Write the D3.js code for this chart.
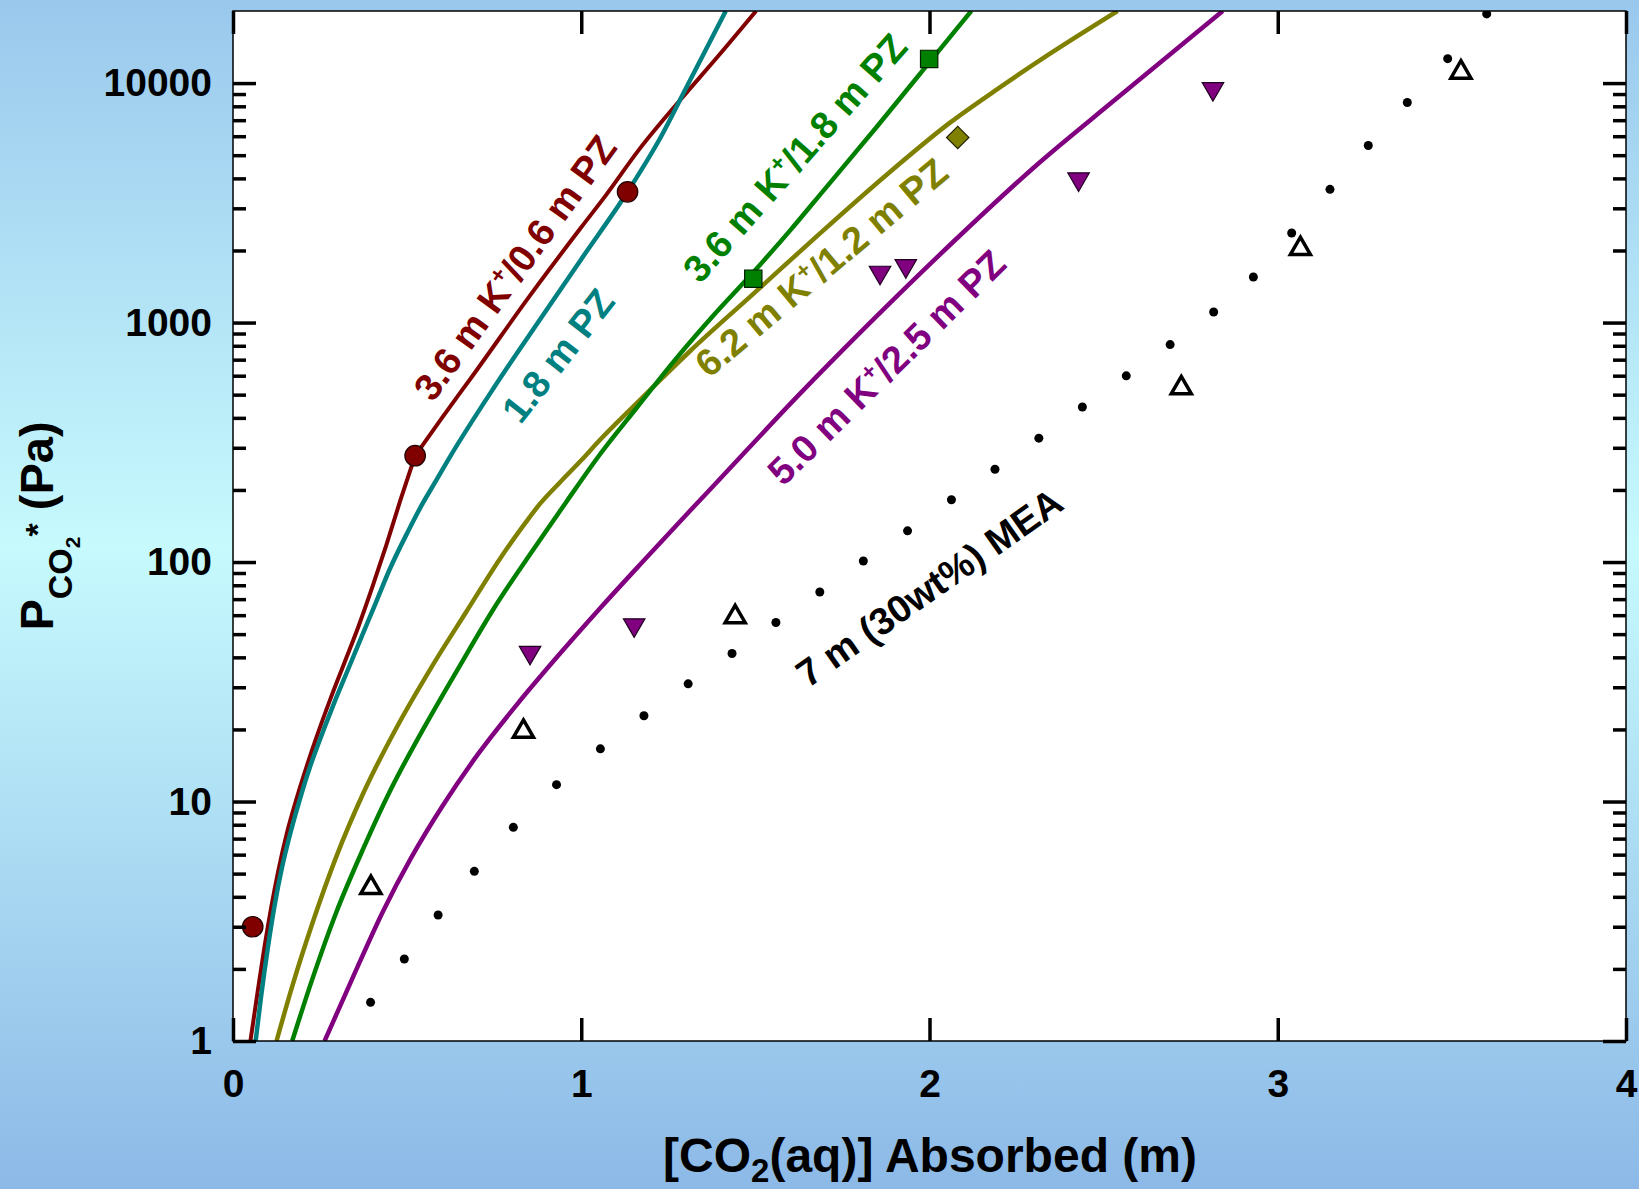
<!DOCTYPE html>
<html>
<head>
<meta charset="utf-8">
<script src="https://cdn.jsdelivr.net/npm/d3@7"></script>
<style>
  body { margin: 0; }
  text { font-family: 'Liberation Sans', Arial, sans-serif; font-weight: bold; }
</style>
</head>
<body>
<div id="vis"></div>
<script>
// axis ticks
const xTicks = [0, 1, 2, 3, 4];
const yTicks = [1, 10, 100, 1000, 10000];

// model curves  [CO2 absorbed (m), PCO2* (Pa)]
const k36pz06Curve = [[0.05,1],[0.07,1.58],[0.09,2.45],[0.11,3.63],[0.13,5.13],[0.155,7.41],[0.18,10],[0.21,13.8],[0.24,18.6],[0.28,26.9],[0.32,38],[0.36,53.7],[0.4,78.5],[0.44,117.5],[0.48,180],[0.523,278],[0.6,400],[0.696,622],[0.85,1280],[1.0,2500],[1.07,3390],[1.167,5300],[1.281,8400],[1.394,13000],[1.502,20000]];
const k36pz06Kink = 15; // the curve has a corner at the 0.523 m point
const pz18Curve = [[0.065,1],[0.08,1.51],[0.1,2.45],[0.12,3.72],[0.14,5.25],[0.165,7.41],[0.19,10],[0.22,13.8],[0.25,18.2],[0.29,25.7],[0.33,35.5],[0.37,49],[0.41,67.6],[0.45,93.3],[0.5,132],[0.543,174],[0.58,215],[0.623,275],[0.75,537],[0.885,1047],[1.0,1840],[1.133,3515],[1.224,5800],[1.304,9720],[1.415,20000]];
const k36pz18Curve = [[0.17,1],[0.227,1.8],[0.295,3.4],[0.375,6.4],[0.454,11.3],[0.545,19.9],[0.647,36],[0.749,64],[0.863,113],[0.959,180],[1.054,282],[1.16,442],[1.27,700],[1.38,1072],[1.494,1622],[1.6,2427],[1.695,3548],[1.85,6607],[1.996,12023],[2.12,20000]];
const k62pz12Curve = [[0.125,1],[0.17,1.69],[0.227,3.07],[0.295,5.8],[0.375,10.9],[0.466,19.9],[0.568,36],[0.67,62],[0.772,106],[0.84,146],[0.88,174],[0.94,216],[1.0,266],[1.054,324],[1.15,447],[1.23,582],[1.312,759],[1.494,1318],[1.676,2291],[1.867,4027],[2.059,6839],[2.2,9550],[2.346,13270],[2.54,20000]];
const k50pz25Curve = [[0.263,1],[0.341,1.8],[0.432,3.51],[0.511,5.8],[0.602,9.6],[0.704,15.8],[0.818,25.7],[0.931,40.2],[1.056,64.6],[1.181,102],[1.311,163],[1.394,219],[1.622,494],[1.849,1066],[2.076,2228],[2.303,4487],[2.53,8450],[2.842,20000]];
const meaCurve = [[0.395,1.45],[0.492,2.2],[0.589,3.36],[0.693,5.11],[0.805,7.8],[0.929,11.76],[1.055,16.6],[1.18,22.8],[1.307,31],[1.433,41.5],[1.559,55.9],[1.685,75],[1.81,101],[1.937,135],[2.063,182],[2.188,244],[2.314,329],[2.439,444],[2.565,599],[2.691,809],[2.816,1107],[2.93,1549],[3.04,2365],[3.15,3600],[3.26,5490],[3.372,8300],[3.488,12650],[3.6,19450]];

// experimental points
const k36pz06Exp = [[0.0566,3.0],[0.523,278],[1.133,3515]];
const k36pz18Exp = [[1.494,1525],[1.999,12620]];
const k62pz12Exp = [[2.081,5930]];
const k50pz25Exp = [[0.853,41.9],[1.152,54.6],[1.858,1619],[1.932,1726],[2.428,3975],[2.814,9470]];
const meaExp = [[0.396,4.37],[0.834,19.6],[1.442,59],[2.723,533],[3.065,2033],[3.526,11090]];

// curve labels: text pieces, middle piece is a superscript
const k36pz06Label = ['3.6 m K', '+', '/0.6 m PZ'];
const pz18Label = ['1.8 m PZ'];
const k36pz18Label = ['3.6 m K', '+', '/1.8 m PZ'];
const k62pz12Label = ['6.2 m K', '+', '/1.2 m PZ'];
const k50pz25Label = ['5.0 m K', '+', '/2.5 m PZ'];
const meaLabel = ['7 m (30wt%) MEA'];

const W = 1639, H = 1189;
const plot = {left: 233, right: 1626, top: 11, bottom: 1041};

const x = d3.scaleLinear().domain([0, 4]).range([plot.left, plot.right]);
const y = d3.scaleLog().domain([1, 20000]).range([plot.bottom, plot.top]);

const svg = d3.select('#vis').append('svg').attr('width', W).attr('height', H);
const defs = svg.append('defs');
const grad = defs.append('linearGradient').attr('id', 'bg')
    .attr('x1', 0).attr('y1', 0).attr('x2', 0).attr('y2', 1);
grad.append('stop').attr('offset', '0%').attr('stop-color', '#9ac8ed');
grad.append('stop').attr('offset', '46%').attr('stop-color', '#c6fafd');
grad.append('stop').attr('offset', '100%').attr('stop-color', '#8cb9e7');
defs.append('clipPath').attr('id', 'clip').append('rect')
    .attr('x', plot.left).attr('y', plot.top)
    .attr('width', plot.right - plot.left).attr('height', plot.bottom - plot.top);

svg.append('rect').attr('width', W).attr('height', H).attr('fill', 'url(#bg)');
svg.append('rect')
    .attr('x', plot.left).attr('y', plot.top)
    .attr('width', plot.right - plot.left).attr('height', plot.bottom - plot.top)
    .attr('fill', 'white');

// curves
let line = d3.line().x(d => x(d[0])).y(d => y(d[1])).curve(d3.curveMonotoneX);
let curves = svg.append('g').attr('clip-path', 'url(#clip)');
let redPath = line(k36pz06Curve.slice(0, k36pz06Kink + 1)) + line(k36pz06Curve.slice(k36pz06Kink));
[[redPath, '#800000', 4], [line(pz18Curve), '#008080', 4.5], [line(k62pz12Curve), '#808000', 4.5],
 [line(k36pz18Curve), '#008000', 4.5], [line(k50pz25Curve), '#800080', 4.5]].forEach(([d, color, w]) => {
    curves.append('path').attr('d', d)
        .attr('fill', 'none').attr('stroke', color).attr('stroke-width', w)
        .attr('stroke-linejoin', 'round');
});

// MEA model shown as dots
curves.selectAll('.mea').data(meaCurve).join('circle')
    .attr('class', 'mea')
    .attr('cx', d => x(d[0])).attr('cy', d => y(d[1])).attr('r', 4.5)
    .attr('fill', 'black');

// markers
function markers(data, type, size, fill, stroke, sw, rot) {
    curves.selectAll(null).data(data).join('path')
        .attr('d', d3.symbol().type(type).size(size))
        .attr('transform', d => `translate(${x(d[0])},${y(d[1])}) rotate(${rot})`)
        .attr('fill', fill).attr('stroke', stroke).attr('stroke-width', sw);
}
markers(k36pz06Exp, d3.symbolCircle, 330, '#800000', '#220000', 1.2, 0);
markers(k36pz18Exp, d3.symbolSquare, 300, '#008000', '#002000', 1.2, 0);
markers(k62pz12Exp, d3.symbolSquare, 250, '#808000', '#202000', 1.2, 45);
markers(k50pz25Exp, d3.symbolTriangle, 200, '#800080', '#200020', 1.2, 180);
markers(meaExp, d3.symbolTriangle, 175, 'white', 'black', 3.5, 0);

// curve labels
function addLabel(parts, color, pos, angle) {
    let t = svg.append('text')
        .attr('transform', `translate(${x(pos[0])},${y(pos[1])}) rotate(${angle})`)
        .attr('y', 13)
        .attr('text-anchor', 'middle')
        .attr('fill', color)
        .style('font-size', '38px');
    t.append('tspan').text(parts[0]);
    if (parts.length > 1) {
        t.append('tspan').attr('dy', -15).style('font-size', '23px').text(parts[1]);
        t.append('tspan').attr('dy', 15).text(parts[2]);
    }
}
addLabel(k36pz06Label, '#800000', [0.81, 1690], -54);
addLabel(pz18Label, '#008080', [0.934, 726], -52);
addLabel(k36pz18Label, '#008000', [1.614, 4870], -48.5);
addLabel(k62pz12Label, '#808000', [1.69, 1694], -40);
addLabel(k50pz25Label, '#800080', [1.877, 649], -44.5);
addLabel(meaLabel, 'black', [2.0, 78.2], -35);

// axes
let yMinor = [];
yTicks.forEach(d => d3.range(2, 10).forEach(k => { if (k * d < 20000) yMinor.push(k * d); }));

function styleAxis(g, fontSize) {
    g.select('.domain').remove();
    g.selectAll('.tick line').attr('stroke', 'black').attr('stroke-width', 3.5);
    g.selectAll('.tick text').attr('fill', 'black')
        .style('font-size', fontSize).style('font-family', "'Liberation Sans', Arial, sans-serif")
        .style('font-weight', 'bold');
}

svg.append('g').attr('transform', `translate(${plot.left},0)`)
    .call(d3.axisLeft(y).tickValues(yTicks).tickFormat(d3.format('d')).tickSize(-23).tickPadding(21))
    .call(g => styleAxis(g, '39px'));
svg.append('g').attr('transform', `translate(${plot.left},0)`)
    .call(d3.axisLeft(y).tickValues(yMinor).tickFormat('').tickSize(-13))
    .call(g => styleAxis(g, '39px'));
svg.append('g').attr('transform', `translate(${plot.right},0)`)
    .call(d3.axisRight(y).tickValues(yTicks).tickFormat('').tickSize(-23))
    .call(g => styleAxis(g, '39px'));
svg.append('g').attr('transform', `translate(${plot.right},0)`)
    .call(d3.axisRight(y).tickValues(yMinor).tickFormat('').tickSize(-13))
    .call(g => styleAxis(g, '39px'));
svg.append('g').attr('transform', `translate(0,${plot.bottom})`)
    .call(d3.axisBottom(x).tickValues(xTicks).tickFormat(d3.format('d')).tickSize(-23).tickPadding(28))
    .call(g => styleAxis(g, '39px'));
svg.append('g').attr('transform', `translate(0,${plot.top})`)
    .call(d3.axisTop(x).tickValues(xTicks).tickFormat('').tickSize(-23))
    .call(g => styleAxis(g, '39px'));

// frame
svg.append('rect')
    .attr('x', plot.left).attr('y', plot.top)
    .attr('width', plot.right - plot.left).attr('height', plot.bottom - plot.top)
    .attr('fill', 'none').attr('stroke', 'black').attr('stroke-width', 1.5);

// axis titles
let xt = svg.append('text').attr('x', 930).attr('y', 1172)
    .attr('text-anchor', 'middle').style('font-size', '48px');
xt.append('tspan').text('[CO');
xt.append('tspan').attr('dy', 10).style('font-size', '33px').text('2');
xt.append('tspan').attr('dy', -10).text('(aq)] Absorbed (m)');

let yt = svg.append('text').attr('transform', 'translate(53,526) rotate(-90)')
    .attr('text-anchor', 'middle').style('font-size', '47px');
yt.append('tspan').text('P');
yt.append('tspan').attr('dy', 19).style('font-size', '34px').text('CO');
yt.append('tspan').attr('dy', 8).style('font-size', '21px').text('2');
yt.append('tspan').attr('dy', -31).style('font-size', '34px').text('*');
yt.append('tspan').attr('dy', 4).text(' (Pa)');
</script>
</body>
</html>
